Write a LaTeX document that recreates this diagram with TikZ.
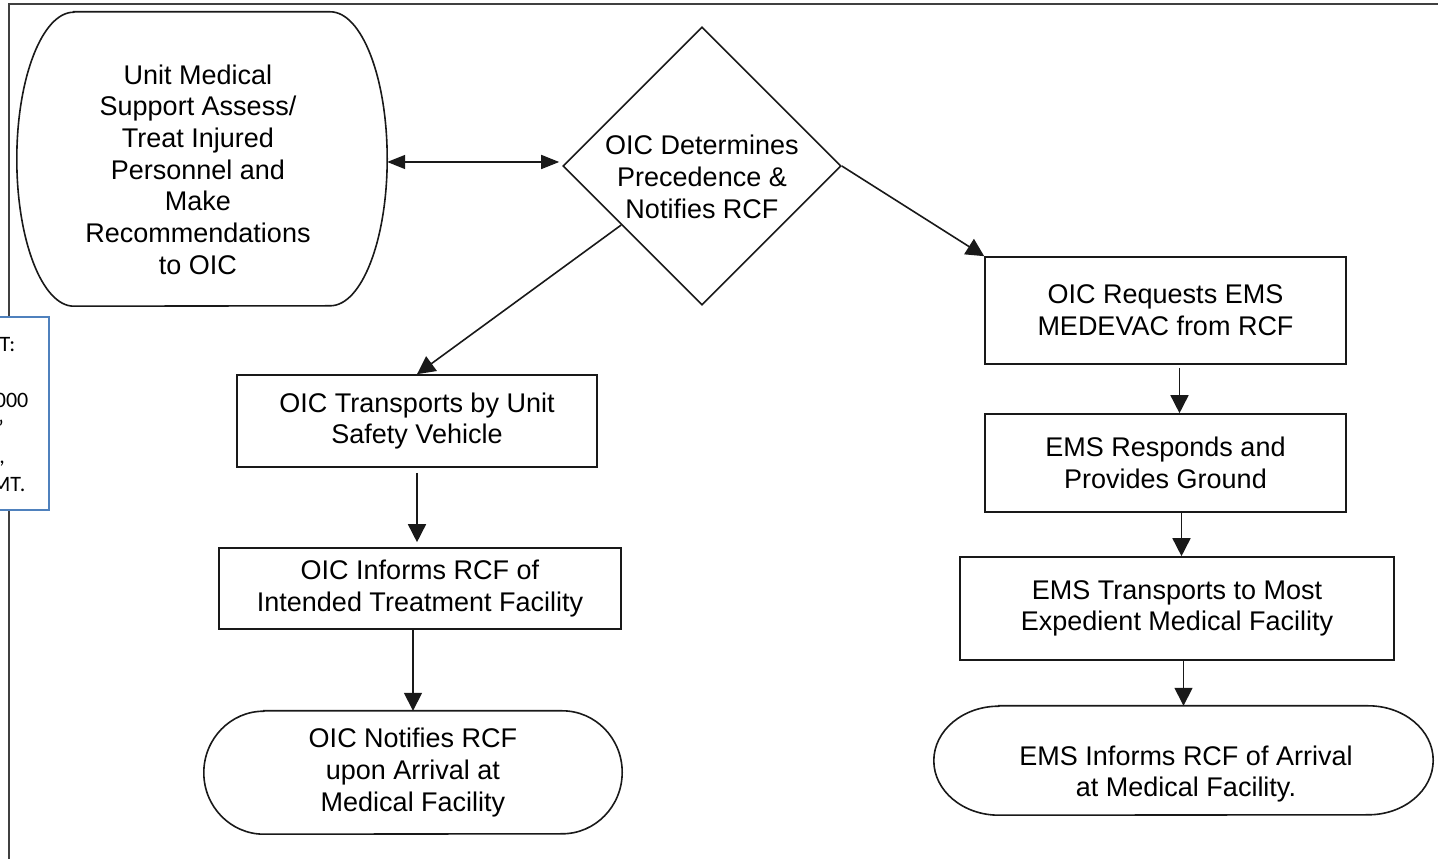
\documentclass[tikz,border=0pt]{standalone}
\usepackage{fontspec}
\setmainfont{Liberation Sans}
\newfontfamily\notefont{Carlito}
\usetikzlibrary{shapes.geometric,arrows.meta}

\newcommand\termoutline[3]{%
  \draw[edge] ([xshift=#2]#1.north west) -- ([xshift=-#2]#1.north east)
    arc[start angle=90, end angle=-90, x radius=#2, y radius=#3]
    -- ([xshift=#2]#1.south west)
    arc[start angle=270, end angle=90, x radius=#2, y radius=#3] -- cycle;}

\begin{document}
\begin{tikzpicture}[x=1pt, y=1pt,
  txt/.style = {align=center, font=\fontsize{27}{31.7}\selectfont, inner sep=0pt},
  edge/.style = {draw=black!90, line width=1.6pt},
  box/.style = {txt, edge},
  term/.style = {txt},
  dec/.style = {diamond, edge, inner sep=0pt, minimum width=278pt, minimum height=278pt},
  arr/.style = {line width=1.6pt, black!90, -{Triangle[length=18pt,width=18pt]}},
  darr/.style = {line width=1.6pt, black!90, {Triangle[length=18pt,width=14pt]}-{Triangle[length=18pt,width=14pt]}},
  notebox/.style = {draw={rgb,255:red,79;green,129;blue,189}, fill=white, line width=1.2pt},
  note/.style = {font=\notefont\fontsize{22}{28}\selectfont, inner sep=0pt, anchor=base east}]
\useasboundingbox (0,0) rectangle (1438,859);
\draw[line width=1.6pt, black!75] (9,-5) -- (9,855) -- (1445,855);

\node[term, minimum width=370pt, minimum height=294pt] (assess) at (202,700) {};
\termoutline{assess}{57pt}{147pt}
\node[txt] (assessTxt) at (198,689.5) {Unit Medical\\Support Assess/\\Treat Injured\\Personnel and\\Make\\Recommendations\\to OIC};

\node[dec] (decide) at (702,693) {};
\node[txt] (decideTxt) at (702,682.3) {OIC Determines\\Precedence \&\\Notifies RCF};

\node[box, minimum width=360pt, minimum height=92pt] (oicbus) at (417,438) {OIC Transports by Unit\\Safety Vehicle};
\node[box, minimum width=402pt, minimum height=81pt] (oicinform) at (420,270.5) {OIC Informs RCF of\\Intended Treatment Facility};
\node[term, minimum width=418pt, minimum height=123pt] (oicarrive) at (413,86.5) {OIC Notifies RCF\\upon Arrival at\\Medical Facility};
\termoutline{oicarrive}{60pt}{61.5pt}

\node[box, minimum width=361pt, minimum height=107pt] (request) at (1165.5,548.5) {OIC Requests EMS\\MEDEVAC from RCF};
\node[box, minimum width=361pt, minimum height=98pt] (respond) at (1165.5,396) {EMS Responds and\\Provides Ground};
\node[box, minimum width=434pt, minimum height=103pt] (transport) at (1177,250.5) {EMS Transports to Most\\Expedient Medical Facility};
\node[term, minimum width=499pt, minimum height=109pt] (emsarrive) at (1183.5,98.5) {};
\termoutline{emsarrive}{65pt}{54.5pt}
\node[txt] (emsarriveTxt) at (1186,85) {EMS Informs RCF of Arrival\\at Medical Facility.};

\draw[darr, shorten >=3pt] ([yshift=-3]assess.east) -- ([yshift=-3]assess.east -| decide.west);
\draw[arr] (decide) -- (oicbus.north);
\draw[arr] (decide.east) -- (request.north west);
\draw[arr, shorten <=5pt, shorten >=5pt] (oicbus.south) -- (oicbus.south |- oicinform.north);
\draw[arr] ([xshift=-7]oicinform.south) -- ([xshift=-7]oicinform.south |- oicarrive.north);
\draw[arr, shorten <=3pt] ([xshift=14]request.south) -- ([xshift=14]request.south |- respond.north);
\draw[arr] ([xshift=16]respond.south) -- ([xshift=16]respond.south |- transport.north);
\draw[arr] (emsarrive.north |- transport.south) -- (emsarrive.north);

\draw[notebox] (-2,542) rectangle (49,349);
\node[note] (n1) at (15.5,507) {Т:};
\node[note] (n2) at (28.5,451) {000};
\node[note] (n3) at (4,423) {’};
\node[note] (n4) at (5,395) {,};
\node[note] (n5) at (25.5,367) {МТ.};
\end{tikzpicture}
\end{document}
